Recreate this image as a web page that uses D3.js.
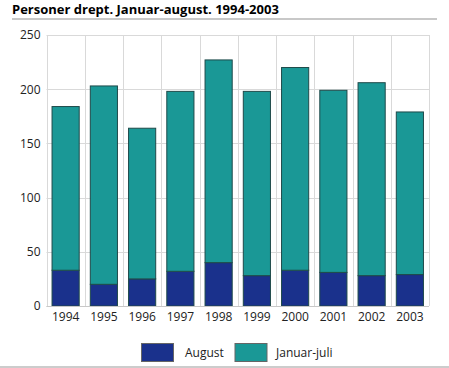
<!DOCTYPE html>
<html><head><meta charset="utf-8">
<script src="https://cdn.jsdelivr.net/npm/d3@7"></script>
<style>body{margin:0;background:#fff;} svg{display:block;font-family:"Open Sans","DejaVu Sans",sans-serif;}</style>
</head><body>
<svg id="c" width="449" height="368"></svg>
<script>
const years = ["1994","1995","1996","1997","1998","1999","2000","2001","2002","2003"];
const august = [33,20,25,32,40,28,33,31,28,29];
const januarJuli = [151,183,139,166,187,170,187,168,178,150];
const yTicks = [0,50,100,150,200,250];
const seriesNames = ["August","Januar-juli"];
const colors = ["#1a318c","#1a9896"];

const svg = d3.select("#c");
const m = {l:46.5, r:429, t:35, b:306};
const x = d3.scaleBand().domain(years).range([m.l, m.r]).paddingInner(0.29).paddingOuter(0.145);
const xg = d3.scaleBand().domain(years).range([m.l, m.r]);
const y = d3.scaleLinear().domain([0,250]).range([m.b, m.t]);

svg.append("text").attr("x",12).attr("y",14).attr("font-size",13).attr("font-weight","bold").attr("fill","#000").text("Personer drept. Januar-august. 1994-2003");
svg.append("line").attr("x1",12).attr("x2",437).attr("y1",19).attr("y2",19).attr("stroke","#c8c8c8").attr("stroke-width",2);

// gridlines
svg.append("g").selectAll("line").data(yTicks).join("line")
  .attr("x1",m.l).attr("x2",m.r).attr("y1",d=>Math.round(y(d))+0.5).attr("y2",d=>Math.round(y(d))+0.5)
  .attr("stroke","#d9d9d9");
svg.append("g").selectAll("line").data(years).join("line")
  .attr("x1",d=>Math.round(xg(d)+xg.bandwidth())+0.5).attr("x2",d=>Math.round(xg(d)+xg.bandwidth())+0.5)
  .attr("y1",m.t).attr("y2",m.b).attr("stroke","#d9d9d9");
svg.append("line").attr("x1",Math.round(m.l)+0.5).attr("x2",Math.round(m.l)+0.5).attr("y1",m.t).attr("y2",m.b).attr("stroke","#d9d9d9");

const stackData = years.map((yr,i)=>({year:yr, August:august[i], "Januar-juli":januarJuli[i]}));
const stacked = d3.stack().keys(seriesNames)(stackData);
svg.append("g").selectAll("g").data(stacked).join("g")
  .attr("fill",(d,i)=>colors[i])
  .selectAll("rect").data(d=>d).join("rect")
  .attr("x",d=>x(d.data.year)).attr("width",x.bandwidth())
  .attr("y",d=>y(d[1])).attr("height",d=>y(d[0])-y(d[1]))
  .attr("stroke","#1f4a4a").attr("stroke-width",1);

// axis baseline
svg.append("line").attr("x1",m.l).attr("x2",m.r).attr("y1",m.b+0.5).attr("y2",m.b+0.5).attr("stroke","#c8c8c8");

// y labels
const yAxis = d3.axisLeft(y).tickValues(yTicks).tickSize(0).tickPadding(6);
const ya = svg.append("g").attr("transform",`translate(${m.l},0)`).call(yAxis);
ya.select(".domain").remove();
ya.selectAll("text").attr("font-size",12).attr("fill","#222").attr("font-family","'Open Sans',sans-serif");

const xAxis = d3.axisBottom(x).tickSize(0).tickPadding(6);
const xa = svg.append("g").attr("transform",`translate(0,${m.b})`).call(xAxis);
xa.select(".domain").remove();
xa.selectAll("text").attr("font-size",12).attr("fill","#222").attr("font-family","'Open Sans',sans-serif");

// legend
const leg = [{x:141,tx:185},{x:234.5,tx:276}];
seriesNames.forEach((n,i)=>{
  svg.append("rect").attr("x",leg[i].x+0.5).attr("y",343.5).attr("width",32).attr("height",18).attr("fill",colors[i]).attr("stroke","#666");
  svg.append("text").attr("x",leg[i].tx).attr("y",357).attr("font-size",12).attr("fill","#222").text(n);
});
svg.append("line").attr("x1",0).attr("x2",449).attr("y1",367).attr("y2",367).attr("stroke","#999").attr("stroke-width",1);
</script>
</body></html>
